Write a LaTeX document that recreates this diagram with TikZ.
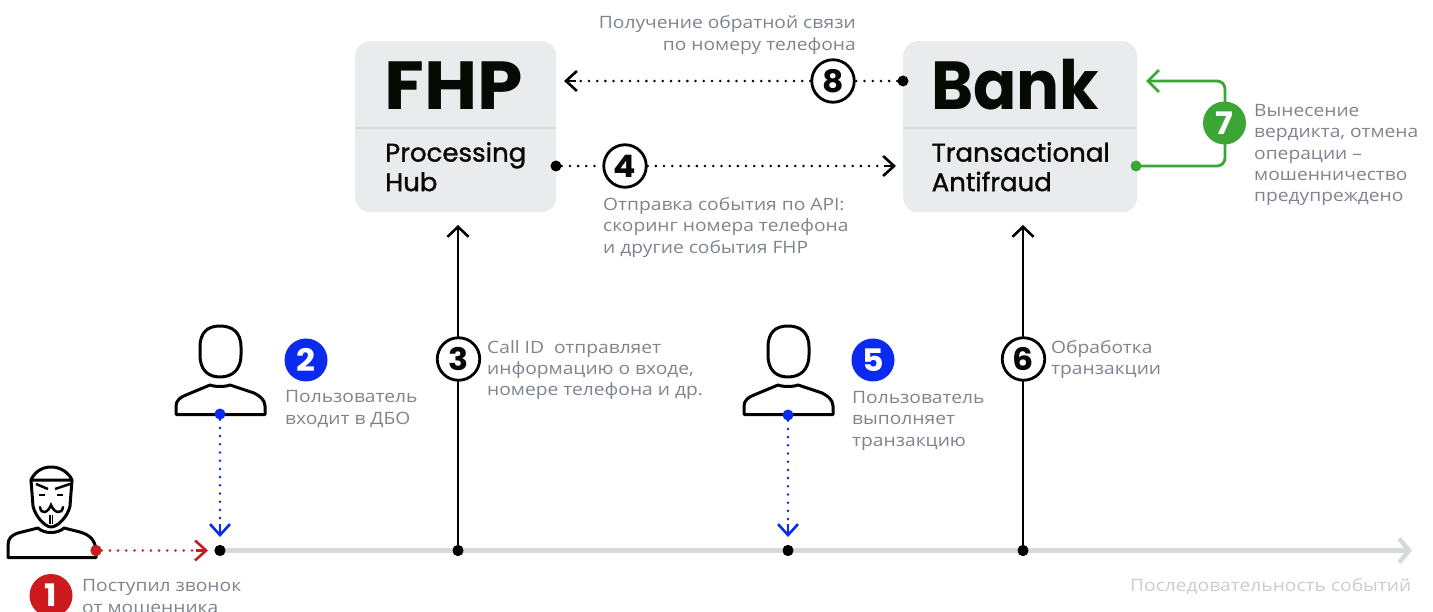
\documentclass[tikz,border=0pt]{standalone}
\usepackage{fontspec}
\usetikzlibrary{arrows.meta}
\setmainfont{DejaVu Sans}
\newfontfamily\popf{Poppins}
\newfontfamily\popw{Poppins}[FakeStretch=1.07]
\newfontfamily\popn{Poppins}[FakeStretch=0.94]
\newfontfamily\popm{Poppins}[FakeBold=1.3,FakeStretch=1.02]
\newfontfamily\txtf{Open Sans}[FakeStretch=1.13]
\definecolor{boxgray}{HTML}{EAEBED}
\definecolor{divgray}{HTML}{D9DBDF}
\definecolor{txtgray}{HTML}{7F848E}
\definecolor{ligray}{HTML}{C9CDD2}
\definecolor{linegray}{HTML}{D5DADA}
\definecolor{inkblack}{HTML}{050A05}
\definecolor{redc}{HTML}{CC1A1F}
\definecolor{bluec}{HTML}{0A2BEF}
\definecolor{greenc}{HTML}{3BA535}
\tikzset{
  x=1pt,y=-1pt,
  panel/.style={draw=none,fill=boxgray,rounded corners=15pt,inner sep=0pt,anchor=north west},
  bigtitle/.style={inner sep=0pt,anchor=base west,text=inkblack},
  subtitle/.style={inner sep=0pt,anchor=north west,align=left,text=inkblack,font=\popm\fontsize{25.5}{29.5}\selectfont},
  note/.style={inner sep=0pt,anchor=north west,align=left,text=txtgray,font=\txtf\fontsize{17}{21.4}\selectfont},
  dotn/.style={circle,fill=#1,inner sep=0pt,minimum size=11pt},
  stepw/.style={circle,draw=black,line width=2.8pt,fill=white,inner sep=0pt,minimum size=42.5pt,text=inkblack,font=\popw\bfseries\fontsize{31}{31}\selectfont},
  stepc/.style={circle,fill=#1,inner sep=0pt,minimum size=43pt,text=white,font=\popw\bfseries\fontsize{31}{31}\selectfont},
  chev/.style={-{Straight Barb[length=11pt,width=20pt,line width=2.6pt]}},
  dots/.style={line width=2.8pt,line cap=round,dash pattern=on 0pt off 8.2pt,draw=#1},
  icon/.style={draw=black,line width=3pt,line join=round,line cap=round}
}
\begin{document}
\begin{tikzpicture}
\useasboundingbox (0,0) rectangle (1433,612);
\fill[white] (0,0) rectangle (1433,612);

% panels
\node[panel,minimum width=201pt,minimum height=171pt] (fhp) at (355,41) {};
\node[panel,minimum width=234pt,minimum height=171pt] (bank) at (903,41) {};
\draw[divgray,line width=1.2pt] (fhp.west |- 0,128) coordinate (fa) -- (fhp.east |- 0,128) coordinate (fb);
\draw[divgray,line width=1.2pt] (bank.west |- 0,128) coordinate (ba) -- (bank.east |- 0,128) coordinate (bb);
\node[bigtitle,font=\popw\bfseries\fontsize{68}{68}\selectfont] (fhpt) at (384,110) {FHP};
\node[bigtitle,font=\popn\bfseries\fontsize{68}{68}\selectfont] (bankt) at (931,110) {Bank};
\node[subtitle] (fhps) at (385,142) {Processing\\Hub};
\node[subtitle] (banks) at (931.5,142) {Transactional\\Antifraud};

% timeline
\node[dotn=black] (t1) at (220,550.5) {};
\node[dotn=black] (t3) at (458,550.5) {};
\node[dotn=black] (t5) at (788,550.5) {};
\node[dotn=black] (t6) at (1023,550.5) {};
\coordinate (tend) at (1412,550.5);
\draw[linegray,line width=5pt,-{Straight Barb[length=10pt,width=24pt,line width=4.5pt]}] (t1.center) -- (tend);
\node[dotn=black] at (t1) {};
\node[dotn=black] at (t3) {};
\node[dotn=black] at (t5) {};
\node[dotn=black] at (t6) {};

% icons: hacker
\node[dotn=redc] (d1) at (96,550.5) {};
\draw[icon] (51,467) .. controls (41,467) and (34,473) .. (31,480)
  -- (72,480) .. controls (69,473) and (61,467) .. (51,467);
\draw[icon] (31,480) -- (33,506) .. controls (35,516) and (45,527) .. (51,527)
  .. controls (58,527) and (68,516) .. (70,506) -- (72,480);
\draw[black,line width=2.5pt] (36,484) -- (48,489) (70,484) -- (55,489);
\draw[black,line width=2.3pt] (39,495) -- (45,495) (57,495) -- (63,495);
\draw[black,line width=2.5pt,line cap=round] (40,507) .. controls (41,515) and (48,513) .. (51,505)
  .. controls (54,513) and (62,515) .. (63,507);
\draw[black,line width=1.4pt] (50,515) -- (50,524) (52.5,515) -- (52.5,524);
\draw[icon] (8,557.5) -- (8,545) .. controls (8,538) and (12,535) .. (18,533)
  -- (38,528) .. controls (44,534) and (58,534) .. (64,528) -- (80,532)
  .. controls (90,535) and (95,540) .. (96,550) -- (96,557.5) -- cycle;
\node[dotn=redc] at (d1) {};

% icons: users
\foreach \px/\nm in {220/uone,788/utwo}{
  \begin{scope}[shift={(\px,0)}]
  \draw[icon] (-20,347) .. controls (-20,332) and (-12,326) .. (0,326)
     .. controls (12,326) and (21,332) .. (21,347) -- (21,355)
     .. controls (21,370) and (12,377) .. (0,377)
     .. controls (-12,377) and (-20,370) .. (-20,355) -- cycle;
  \draw[icon] (-44,414.5) -- (-44,406) .. controls (-44,401) and (-40,397) .. (-34,395)
     -- (-10,385) .. controls (-5,387) and (5,387) .. (10,385) -- (34,393)
     .. controls (40,396) and (45,400) .. (45,406) -- (45,414.5) -- cycle;
  \end{scope}
}
\node[dotn=bluec] (d2) at (220,414) {};
\node[dotn=bluec] (d5) at (788,415) {};
\coordinate (a2) at (220,537);
\coordinate (a5) at (788,537);
\draw[dots=bluec] (d2) -- (220,522);
\draw[dots=bluec] (d5) -- (788,522);
\draw[bluec,line width=2.6pt,chev] (220,524) -- (a2);
\draw[bluec,line width=2.6pt,chev] (788,524) -- (a5);

% red connector
\coordinate (a1) at (208,550.5);
\draw[dots=redc] (d1) -- (194,550.5);
\draw[redc,line width=2.6pt,chev] (196,550.5) -- (a1);

% black verticals
\coordinate (a3) at (458,225);
\coordinate (a6) at (1023,225);
\draw[black,line width=2.8pt,-{Straight Barb[length=10pt,width=21pt,line width=2.6pt]}] (t3.center) -- (a3);
\draw[black,line width=2.8pt,-{Straight Barb[length=10pt,width=21pt,line width=2.6pt]}] (t6.center) -- (a6);
\node[stepw] (s3) at (458.5,359) {3};
\node[stepw] (s6) at (1023.5,359) {6};

% horizontal dotted
\node[dotn=black] (d4) at (556,166) {};
\coordinate (a4) at (896,166);
\node[stepw] (s4) at (625,166) {4};
\draw[dots=black] (d4) -- (s4);
\draw[dots=black] (s4) -- (884,166);
\draw[black,line width=2.6pt,chev] (884,166) -- (a4);
\node[dotn=black] (d8) at (903,81) {};
\coordinate (a8) at (564,81);
\node[stepw] (s8) at (833,81) {8};
\draw[dots=black] (d8) -- (s8);
\draw[dots=black] (s8) -- (576,81);
\draw[black,line width=2.6pt,chev] (576,81) -- (a8);

% green loop
\node[dotn=greenc] (d7) at (1136,166) {};
\coordinate (a7) at (1146,81);
\draw[greenc,line width=2.8pt,rounded corners=8pt,-{Straight Barb[length=11pt,width=22pt,line width=2.8pt]}] (d7.center) -- (1225,166) -- (1225,81) -- (a7);
\node[stepc=greenc] (s7) at (1224.5,123) {7};

% coloured steps
\node[stepc=redc] (s1) at (51,595.5) {1};
\node[stepc=bluec] (s2) at (306,360) {2};
\node[stepc=bluec] (s5) at (873,360) {5};

% notes
\node[note] (n1) at (82,579.5) {Поступил звонок\\от мошенника};
\node[note] (n2) at (285,390.5) {Пользователь\\входит в ДБО};
\node[note] (n3) at (487,340) {Call ID\ \ отправляет\\информацию о входе,\\номере телефона и др.};
\node[note] (n5) at (852,391) {Пользователь\\выполняет\\транзакцию};
\node[note] (n6) at (1051,340) {Обработка\\транзакции};
\node[note] (n4) at (603,197) {Отправка события по API:\\скоринг номера телефона\\и другие события FHP};
\node[note,anchor=north east,align=right] (n8) at (856,15.5) {Получение обратной связи\\по номеру телефона};
\node[note] (n7) at (1254,104) {Вынесение\\вердикта, отмена\\операции –\\мошенничество\\предупреждено};
\node[note,anchor=north east,text=ligray] (n9) at (1411.5,578) {Последовательность событий};
\end{tikzpicture}
\end{document}
